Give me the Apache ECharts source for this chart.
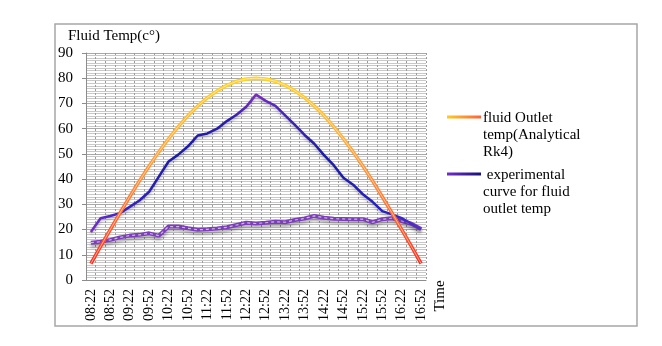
<!DOCTYPE html>
<html>
<head>
<meta charset="utf-8">
<script src="https://cdn.jsdelivr.net/npm/echarts@6/dist/echarts.min.js"></script>
<style>
  html, body { margin: 0; padding: 0; background: #fff; }
  #main { width: 662px; height: 346px; }
</style>
</head>
<body>
<div id="main"></div>
<script>
var times = ['08:22','08:37','08:52','09:07','09:22','09:37','09:52','10:07','10:22','10:37',
  '10:52','11:07','11:22','11:37','11:52','12:07','12:22','12:37','12:52','13:07',
  '13:22','13:37','13:52','14:07','14:22','14:37','14:52','15:07','15:22','15:37',
  '15:52','16:07','16:22','16:37','16:52']

// fluid outlet temp, analytical (Rk4)
var analytical = [6.5, 13.3, 20.0, 26.6, 33.0, 39.3, 45.2, 50.8, 56.0, 60.8,
  65.2, 69.0, 72.3, 75.0, 77.2, 78.8, 79.7, 80.0, 79.7, 78.8,
  77.2, 75.0, 72.3, 69.0, 65.2, 60.8, 56.0, 50.8, 45.2, 39.3,
  33.0, 26.6, 20.0, 13.3, 6.5]

// experimental curve for fluid outlet temp
var experimental = [19.0, 24.5, 25.4, 26.5, 29.0, 31.5, 35.0, 41.0, 47.0, 49.7,
  53.0, 57.3, 58.1, 60.0, 63.0, 65.5, 68.7, 73.5, 71.0, 69.0,
  65.3, 61.5, 57.5, 54.0, 49.5, 45.5, 40.5, 37.8, 34.0, 31.0,
  27.3, 26.0, 24.5, 22.3, 20.2]

// lower purple curve (no legend entry)
var lower = [14.8, 15.2, 15.9, 16.9, 17.6, 17.9, 18.5, 17.6, 21.2, 21.2,
  20.5, 19.9, 20.1, 20.4, 20.9, 21.8, 22.7, 22.4, 22.7, 23.1,
  22.9, 23.8, 24.4, 25.4, 24.7, 24.3, 24.2, 24.1, 24.1, 22.9,
  24.1, 24.5, 23.4, 22.3, 20.2]

var yTicks = { min: 0, max: 90, step: 10 }

var serif = 'Liberation Serif'

var myChart = echarts.init(document.getElementById('main'))

var orangeGrad = new echarts.graphic.LinearGradient(0, 0, 0, 1, [
  { offset: 0, color: '#ffd21f' },
  { offset: 0.3, color: '#ffb23a' },
  { offset: 0.65, color: '#ff7a30' },
  { offset: 1, color: '#ff2a1a' }
])
var blueGrad = new echarts.graphic.LinearGradient(0, 0, 1, 0, [
  { offset: 0, color: '#7a2fc8' },
  { offset: 0.1, color: '#3a22c8' },
  { offset: 0.25, color: '#1c1ca8' },
  { offset: 0.42, color: '#2a1cb0' },
  { offset: 0.5, color: '#7a2fc0' },
  { offset: 0.58, color: '#4a22c0' },
  { offset: 0.7, color: '#1c1ca8' },
  { offset: 0.9, color: '#2a22c8' },
  { offset: 1, color: '#5a30c8' }
])

var option = {
  animation: false,
  title: {
    text: 'Fluid Temp(c°)',
    left: 68,
    top: 29,
    padding: 0,
    textStyle: { fontFamily: serif, fontSize: 15, fontWeight: 'normal', color: '#000' }
  },
  grid: { left: 86, right: 236, top: 53, bottom: 66 },
  xAxis: {
    type: 'category',
    data: times,
    boundaryGap: true,
    axisLine: { lineStyle: { color: '#8c8c8c', width: 1 } },
    axisTick: { show: false },
    axisLabel: {
      interval: 1,
      rotate: 90,
      margin: 9,
      fontFamily: serif,
      fontSize: 14,
      color: '#000'
    },
    splitLine: {
      show: true,
      interval: 0,
      lineStyle: { color: '#9a9a9a', type: [2, 2], width: 1 }
    }
  },
  yAxis: {
    type: 'value',
    min: yTicks.min,
    max: yTicks.max,
    interval: yTicks.step,
    axisLine: { show: true, lineStyle: { color: '#8c8c8c', width: 1 } },
    axisTick: { show: true, inside: false, length: 4, lineStyle: { color: '#8c8c8c' } },
    axisLabel: { margin: 13, fontFamily: serif, fontSize: 15, color: '#000' },
    splitLine: { lineStyle: { color: '#a8a8a8', width: 1 } },
    minorTick: { show: false, splitNumber: 10 },
    minorSplitLine: { show: true, lineStyle: { color: '#c8c8c8', width: 1 } }
  },
  series: [
    {
      name: 'lower',
      type: 'line',
      data: lower,
      showSymbol: false,
      silent: true,
      lineStyle: {
        color: '#7d3fb8', width: 4,
        shadowColor: 'rgba(0,0,0,0.3)', shadowBlur: 3, shadowOffsetY: 3
      },
      z: 2
    },
    {
      name: 'lowerInner',
      type: 'line',
      data: lower,
      showSymbol: false,
      silent: true,
      lineStyle: { color: '#d2b8ee', width: 1.2, type: [3, 3] },
      z: 3
    },
    {
      name: 'experimental curve for fluid outlet temp',
      type: 'line',
      data: experimental,
      showSymbol: false,
      lineStyle: {
        color: blueGrad, width: 2.5,
        shadowColor: 'rgba(0,0,0,0.25)', shadowBlur: 3, shadowOffsetY: 2
      },
      z: 4
    },
    {
      name: 'fluid Outlet temp(Analytical Rk4)',
      type: 'line',
      data: analytical,
      showSymbol: false,
      lineStyle: { color: orangeGrad, width: 3.5 },
      z: 5
    },
    {
      name: 'analyticalInner',
      type: 'line',
      data: analytical,
      showSymbol: false,
      silent: true,
      lineStyle: { color: 'rgba(255,255,255,0.55)', width: 1 },
      z: 6
    }
  ],
  graphic: [
    {
      type: 'rect',
      shape: { x: 55, y: 24, width: 582, height: 302 },
      style: { fill: 'none', stroke: '#a6a6a6', lineWidth: 1.5 },
      silent: true
    },
    {
      type: 'text',
      x: 440, y: 296,
      rotation: Math.PI / 2,
      style: {
        text: 'Time', font: '15px "Liberation Serif"', fill: '#000',
        textAlign: 'center', textVerticalAlign: 'middle'
      }
    },
    {
      type: 'line',
      shape: { x1: 447, y1: 117, x2: 481, y2: 117 },
      style: {
        lineWidth: 3,
        stroke: new echarts.graphic.LinearGradient(0, 0, 1, 0, [
          { offset: 0, color: '#ffd21f' },
          { offset: 1, color: '#ff5a3a' }
        ])
      }
    },
    {
      type: 'text',
      x: 483, y: 109.5,
      style: {
        text: 'fluid Outlet\ntemp(Analytical\nRk4)',
        font: '15px "Liberation Serif"', fill: '#000', lineHeight: 17,
        textVerticalAlign: 'top'
      }
    },
    {
      type: 'line',
      shape: { x1: 447, y1: 174, x2: 481, y2: 174 },
      style: {
        lineWidth: 3,
        stroke: new echarts.graphic.LinearGradient(0, 0, 1, 0, [
          { offset: 0, color: '#7a2fd0' },
          { offset: 1, color: '#101070' }
        ])
      }
    },
    {
      type: 'text',
      x: 483, y: 166.5,
      style: {
        text: ' experimental\ncurve for fluid\noutlet temp',
        font: '15px "Liberation Serif"', fill: '#000', lineHeight: 17,
        textVerticalAlign: 'top'
      }
    }
  ]
}

myChart.setOption(option)
</script>
</body>
</html>
